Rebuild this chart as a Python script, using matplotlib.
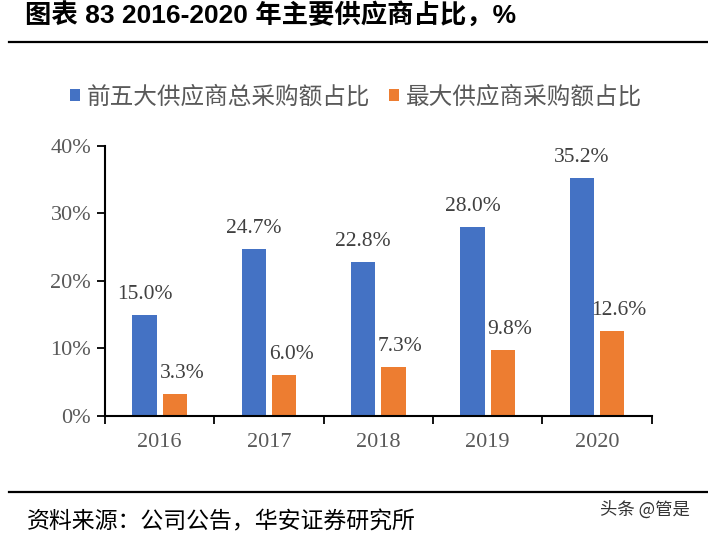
import matplotlib
matplotlib.use("Agg")
import matplotlib.pyplot as plt
from matplotlib.lines import Line2D
from matplotlib.ticker import FixedLocator, FuncFormatter

# 数据
years = ["2016", "2017", "2018", "2019", "2020"]
top5_share = [15.0, 24.7, 22.8, 28.0, 35.2]
top1_share = [3.3, 6.0, 7.3, 9.8, 12.6]
series_names = ["前五大供应商总采购额占比", "最大供应商采购额占比"]

blue = "#4472C4"
orange = "#ED7D31"
grey = "#595959"
serif = ["Liberation Serif", "DejaVu Serif"]
cjk = ["Noto Sans CJK SC", "DejaVu Sans"]

W, H = 708, 535
fig = plt.figure(figsize=(W / 100, H / 100), dpi=100)

# 坐标区
ax = fig.add_axes([105 / W, 1 - 416 / H, (651.7 - 105) / W, (416 - 145.7) / H])

x = list(range(len(years)))
bw = 0.223
off = 0.139
b1 = ax.bar([i - off for i in x], top5_share, width=bw, color=blue, label=series_names[0])
b2 = ax.bar([i + off for i in x], top1_share, width=bw, color=orange, label=series_names[1])

# 数据标签（橙色标签略向右偏）
for bars, vals, dx in ((b1, top5_share, 0), (b2, top1_share, 5)):
    for rect, v in zip(bars, vals):
        ax.annotate(f"{v:.1f}%",
                    (rect.get_x() + rect.get_width() / 2, v),
                    xytext=(dx, 11.5), textcoords="offset points",
                    ha="center", va="baseline",
                    fontsize=15.5, family=serif, color="#404040")

ax.set_xlim(-0.5, len(years) - 0.5)
ax.set_ylim(0, 40)
ax.yaxis.set_major_locator(FixedLocator([0, 10, 20, 30, 40]))
ax.yaxis.set_major_formatter(FuncFormatter(lambda v, p: f"{v:.0f}%"))

ax.set_xticks(x)
ax.set_xticklabels(years)
ax.set_xticks([i - 0.5 for i in range(len(years) + 1)], minor=True)
ax.tick_params(axis="x", which="major", length=0, pad=12)
ax.tick_params(axis="x", which="minor", length=6, width=1.3, direction="out")
ax.tick_params(axis="y", length=6, width=1.3, direction="out", pad=4)

for lab in ax.get_xticklabels() + ax.get_yticklabels():
    lab.set_family(serif)
    lab.set_fontsize(16)
    lab.set_color(grey)

for s in ("top", "right"):
    ax.spines[s].set_visible(False)
for s in ("left", "bottom"):
    ax.spines[s].set_linewidth(1.5)
    ax.spines[s].set_color("black")

# 图例
fig.legend(handles=[b1, b2], labels=series_names,
           loc="center", bbox_to_anchor=(356 / W, 1 - 97 / H),
           ncol=2, frameon=False, prop={"family": cjk, "size": 17},
           labelcolor=grey, handlelength=0.42, handleheight=0.42,
           handletextpad=0.3, columnspacing=0.8)

# 标题与横线
fig.text(25 / W, 1 - 16 / H, "图表 83 2016-2020 年主要供应商占比，%",
         ha="left", va="center", fontsize=19, fontweight="bold",
         family=["Liberation Sans", "Noto Sans CJK SC"], color="black")
fig.add_artist(Line2D([9 / W, 1.0], [1 - 41.5 / H] * 2, color="black", lw=1.6))
fig.add_artist(Line2D([9 / W, 1.0], [1 - 492 / H] * 2, color="black", lw=1.6))

# 资料来源
fig.text(27 / W, 1 - 522 / H, "资料来源：公司公告，华安证券研究所",
         ha="left", va="center", fontsize=16.5, family=cjk, color="black")
fig.text(600 / W, 1 - 510 / H, "头条 @管是",
         ha="left", va="center", fontsize=12.5, family=cjk, color="#333333")

fig.savefig("out.png", dpi=100)
